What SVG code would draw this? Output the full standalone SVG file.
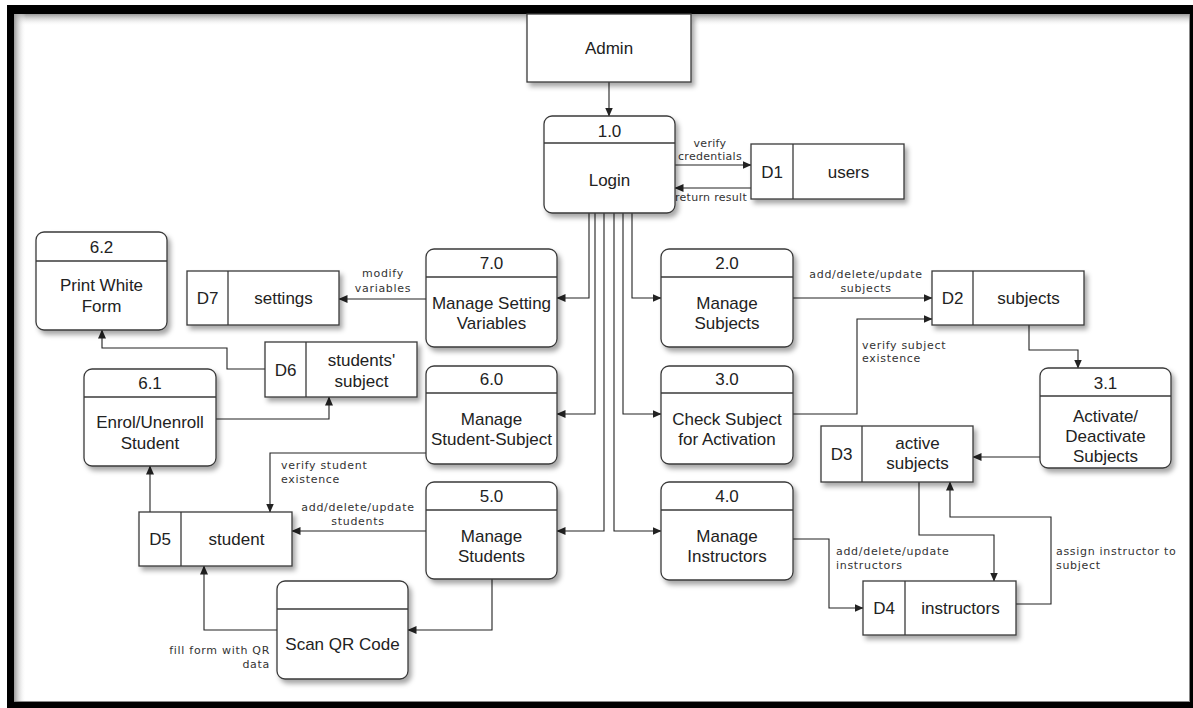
<svg xmlns="http://www.w3.org/2000/svg" width="1193" height="708" viewBox="0 0 1193 708">
<style>
.box{fill:#fff;stroke:#3a3a3a;stroke-width:1.3}
.sep{stroke:#3a3a3a;stroke-width:1.3}
.t{font-family:"Liberation Sans",Arial,sans-serif;font-size:17px;fill:#222;text-anchor:middle}
.lbl{font-family:"DejaVu Sans",Verdana,sans-serif;font-size:11px;fill:#333;letter-spacing:0.7px}
.sm{letter-spacing:0.3px}
.mid{text-anchor:middle}
.end{text-anchor:end}
.ln{fill:none;stroke:#222;stroke-width:1.1;marker-end:url(#ah)}
.sh{filter:url(#ds)}
</style>
<defs>
<marker id="ah" markerUnits="userSpaceOnUse" markerWidth="9" markerHeight="8" refX="8.5" refY="4" orient="auto">
<path d="M0,0 L9,4 L0,8 z" fill="#222"/>
</marker>
<filter id="ds" x="-10%" y="-10%" width="130%" height="140%">
<feDropShadow dx="3" dy="4" stdDeviation="2.5" flood-color="#000" flood-opacity="0.35"/>
</filter>
<linearGradient id="gt" x1="0" y1="0" x2="0" y2="1">
<stop offset="0" stop-color="#999"/><stop offset="1" stop-color="#fff" stop-opacity="0"/>
</linearGradient>
<linearGradient id="gl" x1="0" y1="0" x2="1" y2="0">
<stop offset="0" stop-color="#999"/><stop offset="1" stop-color="#fff" stop-opacity="0"/>
</linearGradient>
</defs>
<rect x="0" y="0" width="1193" height="708" fill="#fff"/>
<rect x="7" y="5" width="1186" height="703" fill="#000"/>
<rect x="14" y="14" width="1176" height="688" fill="#fff"/>
<rect x="14" y="14" width="1176" height="12" fill="url(#gt)"/>
<rect x="14" y="14" width="12" height="688" fill="url(#gl)"/>
<line x1="1189.5" y1="14" x2="1189.5" y2="702" stroke="#888" stroke-width="1"/>
<line x1="14" y1="701.5" x2="1190" y2="701.5" stroke="#888" stroke-width="1"/>

<g id="connectors">
<path class="ln" d="M609,82 V116"/>
<path class="ln" d="M675,165 H751"/>
<path class="ln" d="M751,188 H675"/>
<path class="ln" d="M426,299 H339"/>
<path class="ln" d="M265,369 H227 V348 H102 V330"/>
<path class="ln" d="M216,419 H329 V397"/>
<path class="ln" d="M589,213 V298 H557"/>
<path class="ln" d="M595,213 V414 H557"/>
<path class="ln" d="M604,213 V531 H557"/>
<path class="ln" d="M614,213 V531 H661"/>
<path class="ln" d="M623,213 V414 H661"/>
<path class="ln" d="M632,213 V298 H661"/>
<path class="ln" d="M793,298 H932"/>
<path class="ln" d="M793,414 H857 V319 H932"/>
<path class="ln" d="M1029,325 V350 H1078 V368"/>
<path class="ln" d="M1040,457 H973"/>
<path class="ln" d="M426,453 H270 V512"/>
<path class="ln" d="M426,531 H292"/>
<path class="ln" d="M150,512 V466"/>
<path class="ln" d="M492,579 V630 H408"/>
<path class="ln" d="M277,630 H204 V566"/>
<path class="ln" d="M793,539 H829 V608 H863"/>
<path class="ln" d="M919,482 V535 H994 V581"/>
<path class="ln" d="M1016,604 H1051 V517 H950 V482"/>
<text class="lbl sm mid" x="710" y="147">verify</text>
<text class="lbl sm mid" x="710" y="160">credentials</text>
<text class="lbl sm mid" x="711" y="201">return result</text>
<text class="lbl mid" x="383" y="277">modify</text>
<text class="lbl mid" x="383" y="292">variables</text>
<text class="lbl" x="281" y="469">verify student</text>
<text class="lbl" x="281" y="483">existence</text>
<text class="lbl mid" x="358" y="511">add/delete/update</text>
<text class="lbl mid" x="358" y="525">students</text>
<text class="lbl end" x="270" y="654">fill form with QR</text>
<text class="lbl end" x="270" y="668">data</text>
<text class="lbl mid" x="866" y="278">add/delete/update</text>
<text class="lbl mid" x="866" y="292">subjects</text>
<text class="lbl" x="862" y="349">verify subject</text>
<text class="lbl" x="862" y="362">existence</text>
<text class="lbl" x="836" y="555">add/delete/update</text>
<text class="lbl" x="836" y="569">instructors</text>
<text class="lbl" x="1056" y="555">assign instructor to</text>
<text class="lbl" x="1056" y="569">subject</text>
</g>

<g id="admin"><rect class="box sh" x="527" y="14" width="164" height="68"/><text class="t" x="609" y="54">Admin</text></g>

<g id="p1_0"><rect class="box sh" x="544" y="116" width="131" height="97" rx="8"/><line class="sep" x1="544" y1="143" x2="675" y2="143"/><text class="t" x="609.5" y="137">1.0</text><text class="t" x="609.5" y="186">Login</text></g>

<g id="d1"><rect class="box sh" x="751" y="144" width="153" height="55"/><line class="sep" x1="793" y1="144" x2="793" y2="199"/><text class="t" x="772" y="178">D1</text><text class="t" x="848.5" y="178">users</text></g>

<g id="p6_2"><rect class="box sh" x="36" y="232" width="131" height="98" rx="8"/><line class="sep" x1="36" y1="261" x2="167" y2="261"/><text class="t" x="101.5" y="253">6.2</text><text class="t" x="101.5" y="291">Print White</text><text class="t" x="101.5" y="312">Form</text></g>

<g id="d7"><rect class="box sh" x="187" y="271" width="152" height="54"/><line class="sep" x1="228" y1="271" x2="228" y2="325"/><text class="t" x="207.5" y="304">D7</text><text class="t" x="283.5" y="304">settings</text></g>

<g id="p7_0"><rect class="box sh" x="426" y="249" width="131" height="98" rx="8"/><line class="sep" x1="426" y1="277" x2="557" y2="277"/><text class="t" x="491.5" y="269">7.0</text><text class="t" x="491.5" y="309">Manage Setting</text><text class="t" x="491.5" y="329">Variables</text></g>

<g id="d6"><rect class="box sh" x="265" y="342" width="152" height="55"/><line class="sep" x1="306" y1="342" x2="306" y2="397"/><text class="t" x="285.5" y="376">D6</text><text class="t" x="361.5" y="366">students'</text><text class="t" x="361.5" y="387">subject</text></g>

<g id="p6_1"><rect class="box sh" x="84" y="369" width="132" height="97" rx="8"/><line class="sep" x1="84" y1="397" x2="216" y2="397"/><text class="t" x="150" y="389">6.1</text><text class="t" x="150" y="428">Enrol/Unenroll</text><text class="t" x="150" y="449">Student</text></g>

<g id="p6_0"><rect class="box sh" x="426" y="366" width="131" height="98" rx="8"/><line class="sep" x1="426" y1="393" x2="557" y2="393"/><text class="t" x="491.5" y="385">6.0</text><text class="t" x="491.5" y="425">Manage</text><text class="t" x="491.5" y="445">Student-Subject</text></g>

<g id="p2_0"><rect class="box sh" x="661" y="249" width="132" height="98" rx="8"/><line class="sep" x1="661" y1="277" x2="793" y2="277"/><text class="t" x="727" y="269">2.0</text><text class="t" x="727" y="309">Manage</text><text class="t" x="727" y="329">Subjects</text></g>

<g id="p3_0"><rect class="box sh" x="661" y="366" width="132" height="98" rx="8"/><line class="sep" x1="661" y1="393" x2="793" y2="393"/><text class="t" x="727" y="385">3.0</text><text class="t" x="727" y="425">Check Subject</text><text class="t" x="727" y="445">for Activation</text></g>

<g id="d2"><rect class="box sh" x="932" y="271" width="152" height="54"/><line class="sep" x1="973" y1="271" x2="973" y2="325"/><text class="t" x="952.5" y="304">D2</text><text class="t" x="1028.5" y="304">subjects</text></g>

<g id="p3_1"><rect class="box sh" x="1040" y="368" width="131" height="100" rx="8"/><line class="sep" x1="1040" y1="396" x2="1171" y2="396"/><text class="t" x="1105.5" y="389">3.1</text><text class="t" x="1105.5" y="422">Activate/</text><text class="t" x="1105.5" y="442">Deactivate</text><text class="t" x="1105.5" y="462">Subjects</text></g>

<g id="d3"><rect class="box sh" x="821" y="426" width="152" height="56"/><line class="sep" x1="862" y1="426" x2="862" y2="482"/><text class="t" x="841.5" y="460">D3</text><text class="t" x="917.5" y="449">active</text><text class="t" x="917.5" y="469">subjects</text></g>

<g id="p5_0"><rect class="box sh" x="426" y="482" width="131" height="97" rx="8"/><line class="sep" x1="426" y1="510" x2="557" y2="510"/><text class="t" x="491.5" y="502">5.0</text><text class="t" x="491.5" y="542">Manage</text><text class="t" x="491.5" y="562">Students</text></g>

<g id="p4_0"><rect class="box sh" x="661" y="482" width="132" height="98" rx="8"/><line class="sep" x1="661" y1="510" x2="793" y2="510"/><text class="t" x="727" y="502">4.0</text><text class="t" x="727" y="542">Manage</text><text class="t" x="727" y="562">Instructors</text></g>

<g id="d5"><rect class="box sh" x="139" y="512" width="153" height="54"/><line class="sep" x1="181" y1="512" x2="181" y2="566"/><text class="t" x="160" y="545">D5</text><text class="t" x="236.5" y="545">student</text></g>

<g id="d4"><rect class="box sh" x="863" y="581" width="153" height="54"/><line class="sep" x1="905" y1="581" x2="905" y2="635"/><text class="t" x="884" y="614">D4</text><text class="t" x="960.5" y="614">instructors</text></g>

<g id="scan_qr"><rect class="box sh" x="277" y="581" width="131" height="98" rx="8"/><line class="sep" x1="277" y1="609" x2="408" y2="609"/><text class="t" x="342.5" y="650">Scan QR Code</text></g>
</svg>
